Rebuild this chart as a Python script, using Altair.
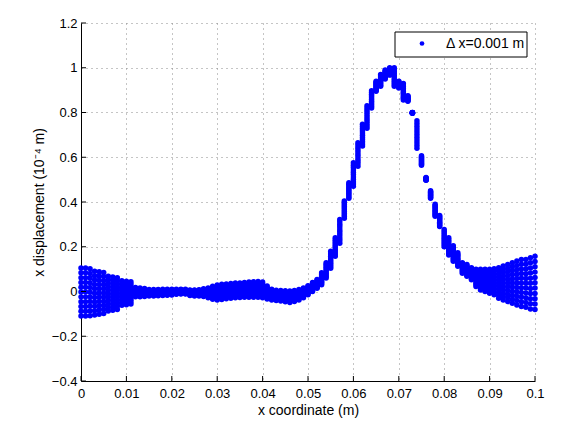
import altair as alt
import pandas as pd

# x coordinate of each column of mesh nodes (m)
x_coord = [round(i * 0.001, 3) for i in range(101)]

# upper and lower envelope of x displacement in each column (10^-4 m)
upper = [0.105, 0.105, 0.102, 0.090, 0.088, 0.085, 0.068, 0.065, 0.062, 0.048,
         0.046, 0.044, 0.018, 0.016, 0.014, 0.009, 0.009, 0.009, 0.010, 0.010,
         0.010, 0.010, 0.010, 0.010, 0.007, 0.007, 0.008, 0.012, 0.016, 0.023,
         0.029, 0.032, 0.034, 0.036, 0.038, 0.038, 0.040, 0.042, 0.044, 0.045,
         0.042, 0.025, 0.010, 0.006, 0.004, 0.003, 0.002, 0.005, 0.009, 0.016,
         0.026, 0.040, 0.054, 0.084, 0.129, 0.180, 0.240, 0.322, 0.404, 0.486,
         0.575, 0.665, 0.747, 0.830, 0.897, 0.940, 0.970, 0.990, 1.000, 1.000,
         0.940, 0.930, 0.875, 0.800, 0.763, 0.607, 0.509, 0.450, 0.390, 0.340,
         0.277, 0.240, 0.205, 0.173, 0.129, 0.121, 0.106, 0.099, 0.099, 0.099,
         0.099, 0.102, 0.106, 0.114, 0.121, 0.129, 0.136, 0.143, 0.143, 0.151,
         0.158]
lower = [-0.110, -0.110, -0.108, -0.105, -0.102, -0.098, -0.087, -0.084, -0.080, -0.062,
         -0.059, -0.056, -0.024, -0.023, -0.022, -0.020, -0.020, -0.019, -0.018, -0.017,
         -0.016, -0.012, -0.011, -0.011, -0.018, -0.020, -0.020, -0.022, -0.028, -0.035,
         -0.038, -0.036, -0.032, -0.030, -0.028, -0.027, -0.026, -0.026, -0.026, -0.026,
         -0.028, -0.034, -0.038, -0.040, -0.043, -0.046, -0.049, -0.045, -0.038, -0.028,
         -0.015, 0.000, 0.014, 0.030, 0.060, 0.104, 0.157, 0.216, 0.327, 0.417,
         0.470, 0.560, 0.650, 0.730, 0.820, 0.895, 0.917, 0.950, 0.967, 0.917,
         0.910, 0.856, 0.850, 0.797, 0.640, 0.564, 0.497, 0.417, 0.336, 0.290,
         0.200, 0.163, 0.135, 0.113, 0.082, 0.068, 0.052, 0.022, 0.007, 0.000,
         -0.008, -0.015, -0.030, -0.038, -0.045, -0.053, -0.060, -0.067, -0.070, -0.078,
         -0.080]

# relative position of the 11 node rows within each column
node_frac = [0.0, 0.1, 0.2, 0.3, 0.4, 0.5, 0.6, 0.7, 0.8, 0.9, 1.0]

x_ticks = [0, 0.01, 0.02, 0.03, 0.04, 0.05, 0.06, 0.07, 0.08, 0.09, 0.1]
y_ticks = [-0.4, -0.2, 0, 0.2, 0.4, 0.6, 0.8, 1.0, 1.2]
legend_label = "Δ x=0.001 m"

rows = []
for xc, hi, lo in zip(x_coord, upper, lower):
    for f in node_frac:
        rows.append({"x": xc, "u": lo + f * (hi - lo)})
df = pd.DataFrame(rows)

W, H = 454, 358
FONT = "Liberation Sans"
BLUE = "#0000ff"

xscale = alt.Scale(domain=[0, 0.1], nice=False, zero=False)
yscale = alt.Scale(domain=[-0.4, 1.2], nice=False, zero=False)
xaxis = alt.Axis(values=x_ticks, format="~g", title="x coordinate (m)",
                 grid=True, ticks=False, tickSize=0, labelPadding=6, titlePadding=3)
yaxis = alt.Axis(values=y_ticks, format="~g", title="x displacement (10⁻⁴ m)",
                 grid=True, ticks=False, tickSize=0, labelPadding=4, titlePadding=5)

points = alt.Chart(df).mark_circle(size=30, color=BLUE, opacity=1).encode(
    x=alt.X("x:Q", scale=xscale, axis=xaxis),
    y=alt.Y("u:Q", scale=yscale, axis=yaxis),
)

xt = alt.Chart(alt.Data(values=[{"x": v} for v in x_ticks])).mark_rule(
    color="black", strokeWidth=1).encode(
    x=alt.X("x:Q", scale=xscale, axis=xaxis),
    y=alt.value(H), y2=alt.value(H - 5))

yt = alt.Chart(alt.Data(values=[{"u": v} for v in y_ticks])).mark_rule(
    color="black", strokeWidth=1).encode(
    y=alt.Y("u:Q", scale=yscale, axis=yaxis),
    x=alt.value(0), x2=alt.value(5))

leg_data = alt.Data(values=[{"label": legend_label}])
leg_box = alt.Chart(leg_data).mark_rect(fill="white", stroke="black", strokeWidth=1).encode(
    x=alt.value(314), x2=alt.value(446), y=alt.value(9), y2=alt.value(34))
leg_dot = alt.Chart(leg_data).mark_circle(size=22, color=BLUE, opacity=1).encode(
    x=alt.value(341), y=alt.value(20.5))
leg_txt = alt.Chart(leg_data).mark_text(align="left", baseline="middle", font=FONT,
                                        fontSize=14, color="black").encode(
    x=alt.value(365), y=alt.value(21), text="label:N")

chart = alt.layer(points, xt, yt, leg_box, leg_dot, leg_txt).properties(
    width=W, height=H,
    autosize=alt.AutoSizeParams(type="none"),
    padding={"left": 73, "top": 15, "right": 27, "bottom": 45},
).configure_view(strokeWidth=0).configure_axis(
    labelFont=FONT, labelFontSize=13, labelColor="black",
    titleFont=FONT, titleFontSize=14, titleColor="black", titleFontWeight="normal",
    domainColor="black", domainWidth=1,
    gridColor="#8a8a8a", gridDash=[1, 4], gridWidth=1, gridOpacity=1,
    labelFlush=False, labelOverlap=False,
)

chart.save("out.html", embed_options={"renderer": "svg", "actions": False})
